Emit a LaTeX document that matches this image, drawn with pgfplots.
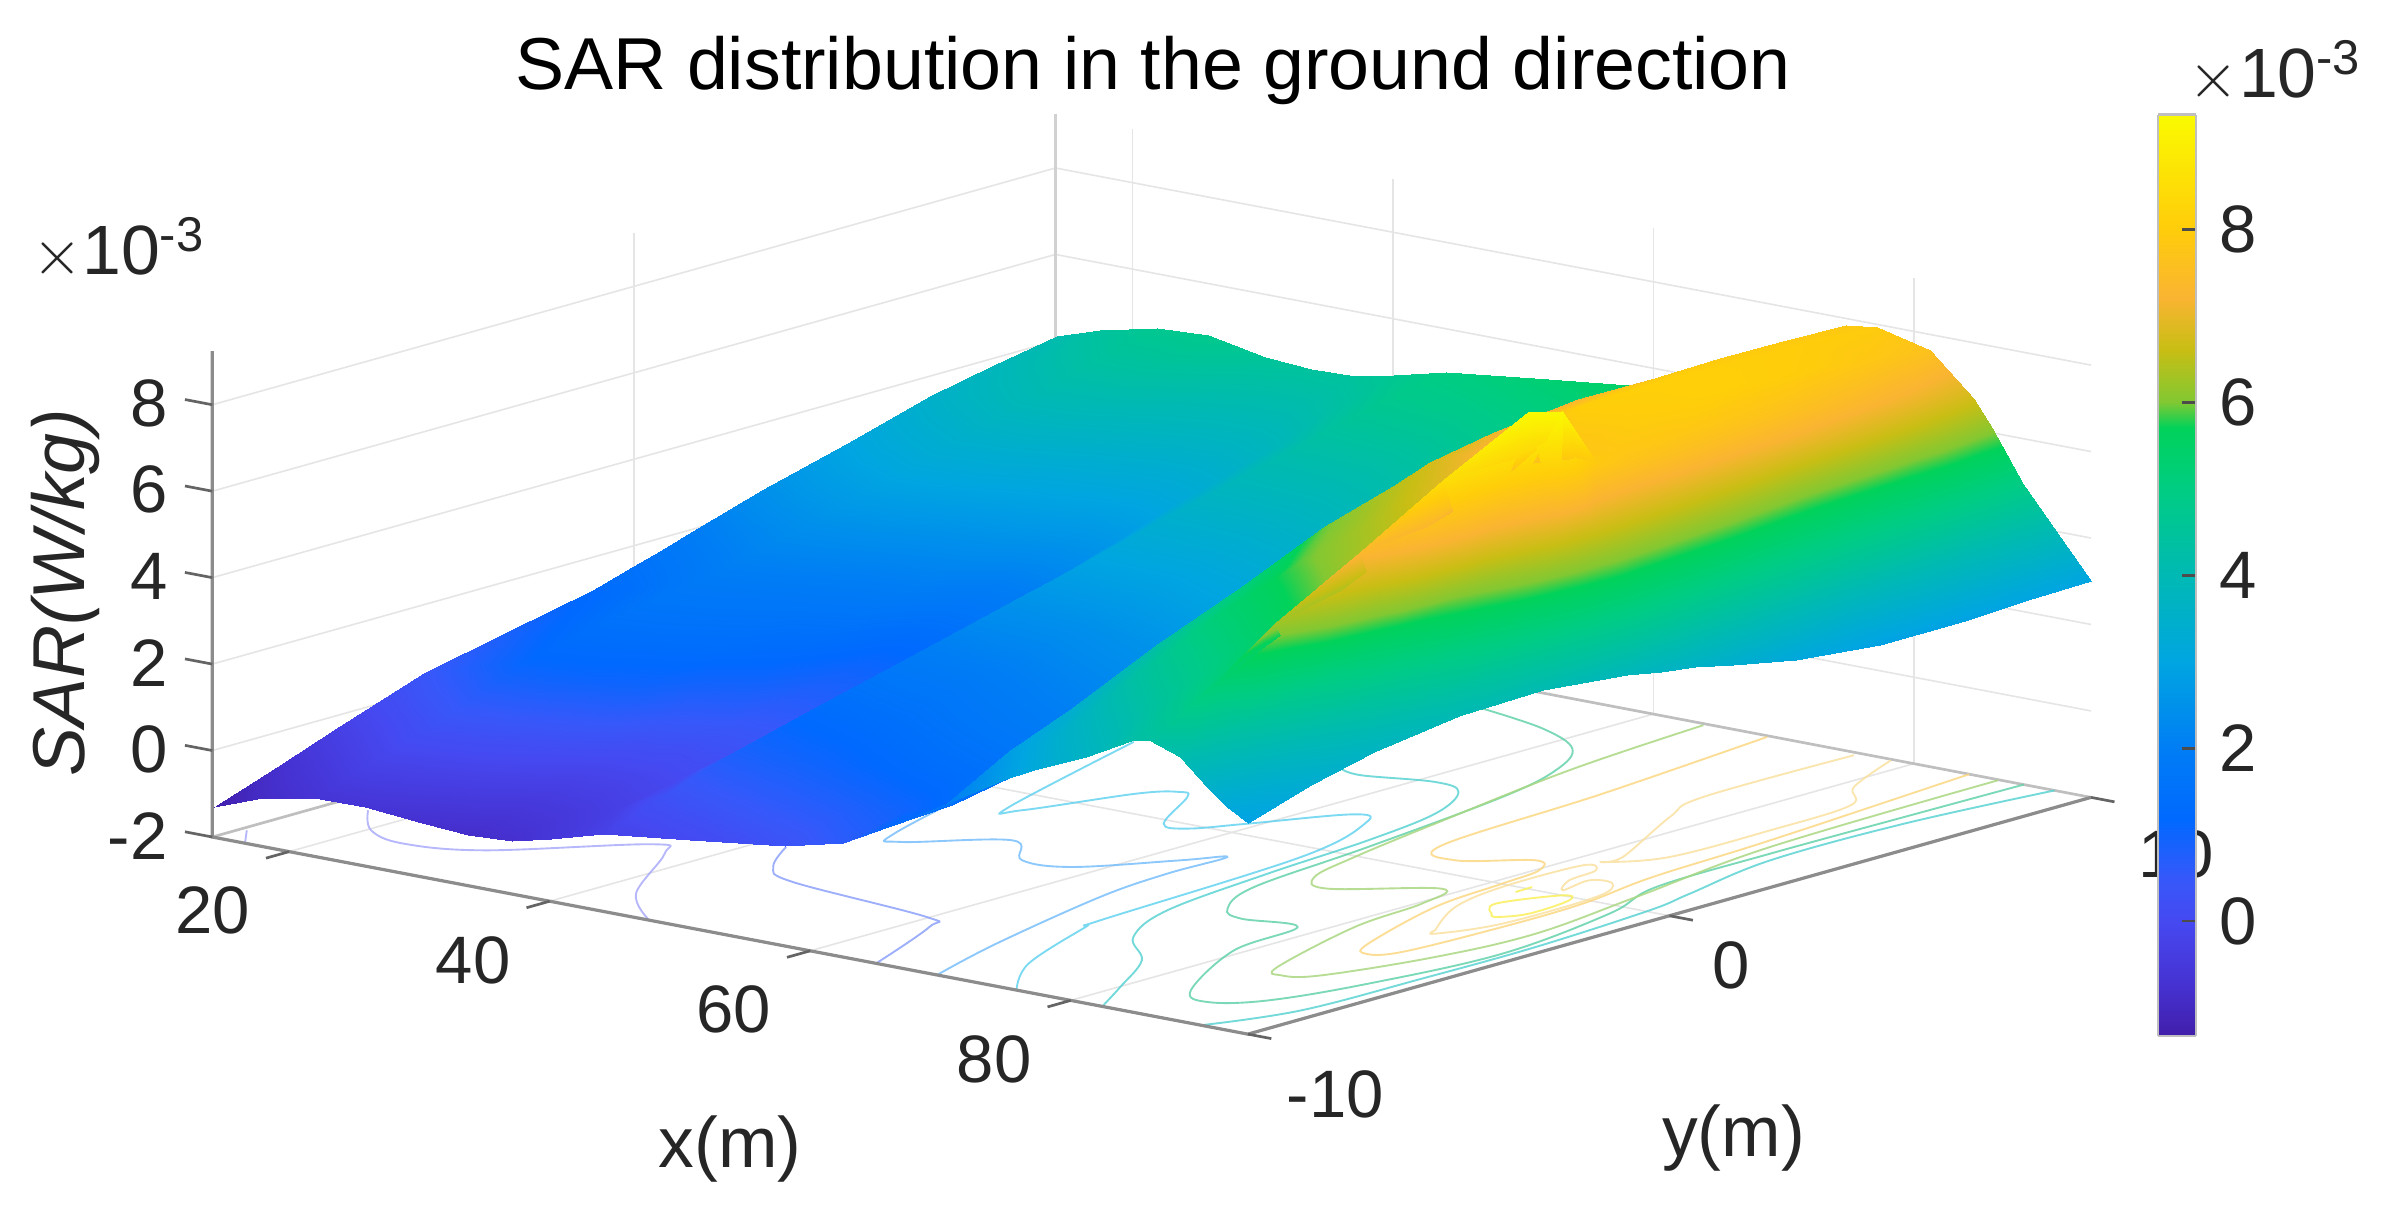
\documentclass[border=0pt]{standalone}
\usepackage{fontspec}
\setmainfont{Liberation Sans}
\usepackage{pgfplots}
\pgfplotsset{compat=1.18}
\usetikzlibrary{calc}
\definecolor{axgray}{RGB}{140,140,140}
\definecolor{tickgray}{RGB}{100,100,100}
\definecolor{txt}{RGB}{38,38,38}
\pgfplotsset{
  colormap={sar}{
    rgb255(0cm)=(65,30,170); rgb255(6cm)=(70,50,210); rgb255(13cm)=(70,72,240);
    rgb255(18cm)=(55,88,250); rgb255(25cm)=(0,105,255); rgb255(33cm)=(0,125,245);
    rgb255(43cm)=(0,165,225); rgb255(53cm)=(0,185,180); rgb255(63cm)=(0,205,130);
    rgb255(70cm)=(0,210,90); rgb255(73cm)=(130,200,50); rgb255(79cm)=(200,190,20);
    rgb255(85cm)=(250,180,50); rgb255(93cm)=(255,205,10); rgb255(106cm)=(250,250,0)
  },
  contourline/.style={line width=0.35pt,smooth,tension=0.6,no markers,opacity=0.85},
}
\begin{document}
\begin{tikzpicture}
\begin{axis}[
  x={(0.08528cm,-0.01623cm)}, y={(0.276cm,0.0775cm)}, z={(0cm,0.283cm)},
  xmin=14.1, xmax=93.6, ymin=-10, ymax=10, zmin=-2, zmax=9.24,
  xtick={20,40,60,80}, ytick={-10,0,10}, ztick={-2,0,2,4,6,8},
  yticklabels={{\hspace*{0.22cm}-10},0,{\hspace*{0.22cm}10}},
  grid=major, major grid style={black!10,line width=0.3pt},
  axis line style={draw=none}, tick style={draw=none},
  tick label style={font=\fontsize{12.5}{14}\selectfont,text=txt},
  xticklabel style={xshift=-0.27cm,yshift=-0.08cm},
  yticklabel style={xshift=0.17cm,yshift=-0.04cm},
  zticklabel style={xshift=-0.17cm,yshift=0.02cm},
  /pgf/number format/assume math mode=true,
  colormap name=sar, point meta min=-1.32, point meta max=9.33,
  clip=false,
]
% back edges of the box
\addplot3[black!18,line width=0.4pt,no markers] coordinates {(14.1,10,-2)(14.1,10,9.24)};
\addplot3[black!25,line width=0.5pt,no markers] coordinates {(14.1,-10,-2)(14.1,10,-2)(93.6,10,-2)};
% floor contours, level by level
\addplot3[contourline,color={rgb,255:red,170;green,170;blue,250}] coordinates {(14.58,-9.33,-2)(16.61,-10,-2)};
\addplot3[contourline,color={rgb,255:red,170;green,170;blue,250}] coordinates {(16.87,-7.16,-2)(20.27,-8.14,-2)(23.91,-8.5,-2)(28.78,-8.05,-2)(35.4,-6.15,-2)(37.5,-6.5,-2)(42.71,-8.79,-2)(47.64,-10,-2)};
\addplot3[contourline,color={rgb,255:red,140;green,160;blue,250}] coordinates {(41.97,-5,-2)(44.64,-6.13,-2)(47.96,-6.7,-2)(59.79,-7.18,-2)(61.57,-7.66,-2)(65.06,-10,-2)};
\addplot3[contourline,color={rgb,255:red,120;green,190;blue,250}] coordinates {(40.73,0.37,-2)(44.75,-3.3,-2)(46.41,-3.65,-2)(51.24,-2.5,-2)(54.94,-3.41,-2)(58.36,-3.26,-2)(62.18,-1.9,-2)(63.8,-1.28,-2)(63.76,-2.7,-2)(64.49,-4.51,-2)(67.35,-7.86,-2)(69.74,-10,-2)};
\addplot3[contourline,color={rgb,255:red,100;green,210;blue,240}] coordinates {(40.76,3.62,-2)(45.66,-0.85,-2)(46.79,-0.89,-2)(49.33,1.05,-2)(51.03,1.54,-2)(52.19,1.36,-2)(55.45,-0.21,-2)(57.35,-0.23,-2)(59.29,0.59,-2)(62.67,2.09,-2)(64.65,1.72,-2)(67.17,-0.57,-2)(68.3,-5.68,-2)(68.72,-6.16,-2)(72.07,-8.55,-2)(75.84,-10,-2)};
\addplot3[contourline,color={rgb,255:red,90;green,210;blue,210}] coordinates {(54.62,4.26,-2)(56.62,4.12,-2)(61.08,4.49,-2)(63.78,4.21,-2)(66.24,2.9,-2)(67.52,0.91,-2)(68.36,-1.74,-2)(69.74,-4.54,-2)(72.54,-6.21,-2)(76.72,-7.3,-2)(80.08,-8.85,-2)(82.42,-10,-2)};
\addplot3[contourline,color={rgb,255:red,90;green,210;blue,210}] coordinates {(90.01,-10,-2)(92.17,-8.29,-2)(92.52,-5.54,-2)(92.57,-2.86,-2)(91.81,0.08,-2)(90.93,1.31,-2)(89.18,3.76,-2)(89.33,6.88,-2)(90.8,10,-2)};
\addplot3[contourline,color={rgb,255:red,100;green,210;blue,170}] coordinates {(51.28,8.64,-2)(57.3,8.21,-2)(61.94,7.48,-2)(64.7,6.23,-2)(66.6,4.38,-2)(68.6,0.58,-2)(69.91,-2.53,-2)(72.23,-3.88,-2)(74.47,-4.25,-2)(78.42,-4.13,-2)(79.32,-5.92,-2)(83.85,-8.34,-2)(86.52,-8.77,-2)(89.01,-8.12,-2)(90.88,-6.31,-2)(92.13,-3.52,-2)(90.51,-0.47,-2)(88.31,1.32,-2)(88.09,4.09,-2)(88.25,7.22,-2)(88.44,10,-2)};
\addplot3[contourline,color={rgb,255:red,170;green,215;blue,130}] coordinates {(64.1,9.92,-2)(65.31,6.36,-2)(67.87,2.39,-2)(69.62,-0.06,-2)(71.04,-1.45,-2)(73.56,-1.91,-2)(78.78,-0.82,-2)(80.3,-1.77,-2)(81.03,-3.58,-2)(84.02,-6.34,-2)(85.54,-6.72,-2)(87.38,-6.34,-2)(89.6,-4.32,-2)(90.4,-2.19,-2)(89.02,0.63,-2)(87,4.43,-2)(86.56,9.97,-2)};
\addplot3[contourline,color={rgb,255:red,250;green,215;blue,130}] coordinates {(68.93,9.94,-2)(70.65,5.51,-2)(71.71,1.37,-2)(74.77,0.74,-2)(78.45,1.51,-2)(80.23,1.04,-2)(80.72,0.01,-2)(81.45,-1.8,-2)(84.36,-4.29,-2)(85.84,-4.82,-2)(87.26,-4.39,-2)(87.78,-2.17,-2)(87.66,-0.22,-2)(86.52,1.79,-2)(85.92,4.76,-2)(84.25,10,-2)};
\addplot3[contourline,color={rgb,255:red,250;green,225;blue,160}] coordinates {(75.89,9.85,-2)(75.79,6.31,-2)(77.52,4.98,-2)(81.88,2.52,-2)(81.79,2.07,-2)(84.03,2.96,-2)(84.29,5.27,-2)(83.89,7.3,-2)(81.06,8.25,-2)(78.4,9.95,-2)};
\addplot3[contourline,color={rgb,255:red,250;green,225;blue,160}] coordinates {(85.26,-2.98,-2)(82.37,-1.61,-2)(81.26,-0.16,-2)(81.41,1.7,-2)(82.84,1.58,-2)(83.24,0.82,-2)(84.57,0.26,-2)(84.16,1.02,-2)(85.77,1.07,-2)(87.18,0.24,-2)(87.24,-2,-2)(85.8,-3.15,-2)(85.26,-2.98,-2)};
\addplot3[contourline,color={rgb,255:red,250;green,240;blue,90}] coordinates {(85.15,-1.6,-2)(83.67,-1.06,-2)(85.38,0,-2)(86.5,-0.19,-2)(86.83,-1.24,-2)(85.84,-1.73,-2)(85.15,-1.6,-2)};
\addplot3[contourline,color={rgb,255:red,250;green,240;blue,90}] coordinates {(82.69,-0.28,-2)(82.64,0.13,-2)};
% surface
\addplot3[surf,shader=interp,z buffer=sort,mesh/cols=23] coordinates {
(14.2,-10,-1.29)(17.5,-10,-.93)(21.9,-10,-.65)(25.8,-10,-.63)(30.2,-10,-.76)(33.7,-10,-.84)(37.1,-10,-.77)(40.1,-10,-.55)(44.1,-10,-.22)(50.8,-10,.03)(58.1,-10,.31)(62.5,-10,.64)(66,-10,1.21)(70.4,-10,2)(74.8,-10,2.79)(77.2,-10,3.17)(81.2,-10,3.7)(84.6,-10,4.26)(86,-10,4.38)(88.4,-10,4.12)(90.5,-10,3.54)(92,-10,3.17)(93.6,-10,2.89)
(14.2,-8.5,-.78)(17.5,-8.5,-.5)(21.9,-8.5,-.15)(25.8,-8.5,-.2)(30.2,-8.5,-.35)(33.7,-8.5,-.5)(37.1,-8.5,-.45)(40.1,-8.5,-.3)(44.1,-8.5,.3)(50.8,-8.5,.55)(58.1,-8.5,.8)(62.5,-8.5,1)(66,-8.5,1.3)(70.4,-8.5,2.8)(74.8,-8.5,3.55)(77.2,-8.5,3.9)(81.2,-8.5,4.4)(84.6,-8.5,4.9)(86,-8.5,5.2)(88.4,-8.5,4.4)(90.5,-8.5,3.85)(92,-8.5,3.55)(93.6,-8.5,3.35)
(14.2,-7,-.25)(17.5,-7,0)(21.9,-7,.35)(25.8,-7,.3)(30.2,-7,.1)(33.7,-7,-.1)(37.1,-7,-.1)(40.1,-7,0)(44.1,-7,.82)(50.8,-7,1)(58.1,-7,1.3)(62.5,-7,1.45)(66,-7,1.6)(70.4,-7,3.4)(74.8,-7,4.3)(77.2,-7,4.6)(81.2,-7,5)(84.6,-7,5.5)(86,-7,6.25)(88.4,-7,4.85)(90.5,-7,4.25)(92,-7,4)(93.6,-7,3.7)
(14.2,-5,.44)(17.5,-5,.75)(21.9,-5,1.15)(25.8,-5,1.1)(30.2,-5,.95)(33.7,-5,.55)(37.1,-5,.4)(40.1,-5,.4)(44.1,-5,1.33)(50.8,-5,1.5)(58.1,-5,1.8)(62.5,-5,1.95)(66,-5,2.05)(70.4,-5,4.3)(74.8,-5,5.2)(77.2,-5,5.4)(81.2,-5,5.75)(84.6,-5,6.4)(86,-5,7.35)(88.4,-5,5.5)(90.5,-5,4.75)(92,-5,4.3)(93.6,-5,4)
(14.2,-3,.85)(17.5,-3,1.15)(21.9,-3,1.55)(25.8,-3,1.5)(30.2,-3,1.4)(33.7,-3,1.15)(37.1,-3,.8)(40.1,-3,.8)(44.1,-3,1.84)(50.8,-3,1.95)(58.1,-3,2.2)(62.5,-3,2.35)(66,-3,2.6)(70.4,-3,5.1)(74.8,-3,5.9)(77.2,-3,6.1)(81.2,-3,6.5)(84.6,-3,7.3)(86,-3,8.5)(88.4,-3,6.1)(90.5,-3,5.2)(92,-3,4.55)(93.6,-3,4.04)
(14.2,-1,1.25)(17.5,-1,1.5)(21.9,-1,1.85)(25.8,-1,1.8)(30.2,-1,1.7)(33.7,-1,1.6)(37.1,-1,1.2)(40.1,-1,1.25)(44.1,-1,2.35)(50.8,-1,2.4)(58.1,-1,2.6)(62.5,-1,2.8)(66,-1,3.1)(70.4,-1,5.95)(74.8,-1,6.45)(77.2,-1,6.65)(81.2,-1,7.1)(84.6,-1,8.3)(86,-1,9.5)(88.4,-1,6.7)(90.5,-1,5.6)(92,-1,4.7)(93.6,-1,3.85)
(14.2,-.2,1.5)(17.5,-.2,1.72)(21.9,-.2,2.02)(25.8,-.2,1.97)(30.2,-.2,1.87)(33.7,-.2,1.8)(37.1,-.2,1.47)(40.1,-.2,1.52)(44.1,-.2,2.55)(50.8,-.2,2.6)(58.1,-.2,2.8)(62.5,-.2,3)(66,-.2,3.35)(70.4,-.2,6.2)(74.8,-.2,6.7)(77.2,-.2,6.95)(81.2,-.2,7.4)(84.6,-.2,8.5)(86,-.2,9.3)(88.4,-.2,6.75)(90.5,-.2,5.6)(92,-.2,4.65)(93.6,-.2,3.7)
(14.2,.6,1.73)(17.5,.6,1.95)(21.9,.6,2.2)(25.8,.6,2.15)(30.2,.6,2.05)(33.7,.6,2)(37.1,.6,1.75)(40.1,.6,1.8)(44.1,.6,2.75)(50.8,.6,2.8)(58.1,.6,3)(62.5,.6,3.2)(66,.6,3.6)(70.4,.6,6.45)(74.8,.6,6.95)(77.2,.6,7.25)(81.2,.6,7.6)(84.6,.6,7.9)(86,.6,7.9)(88.4,.6,6.65)(90.5,.6,5.45)(92,.6,4.5)(93.6,.6,3.6)
(14.2,1.5,2)(17.5,1.5,2.2)(21.9,1.5,2.4)(25.8,1.5,2.35)(30.2,1.5,2.25)(33.7,1.5,2.2)(37.1,1.5,2)(40.1,1.5,2.05)(44.1,1.5,2.98)(50.8,1.5,3)(58.1,1.5,3.2)(62.5,1.5,3.5)(66,1.5,3.85)(70.4,1.5,6.75)(74.8,1.5,7.3)(77.2,1.5,7.6)(81.2,1.5,7.8)(84.6,1.5,7.85)(86,1.5,7.7)(88.4,1.5,6.5)(90.5,1.5,5.25)(92,1.5,4.3)(93.6,1.5,3.4)
(14.2,3,2.48)(17.5,3,2.65)(21.9,3,2.8)(25.8,3,2.75)(30.2,3,2.65)(33.7,3,2.6)(37.1,3,2.5)(40.1,3,2.55)(44.1,3,3.37)(50.8,3,3.4)(58.1,3,3.6)(62.5,3,3.95)(66,3,4.3)(70.4,3,7.05)(74.8,3,7.7)(77.2,3,8.05)(81.2,3,8)(84.6,3,7.85)(86,3,7.5)(88.4,3,6.2)(90.5,3,4.9)(92,3,4)(93.6,3,3.1)
(14.2,5,3)(17.5,5,3.2)(21.9,5,3.4)(25.8,5,3.35)(30.2,5,3.2)(33.7,5,3.15)(37.1,5,3.1)(40.1,5,3.2)(44.1,5,3.88)(50.8,5,3.95)(58.1,5,4.2)(62.5,5,4.55)(66,5,5)(70.4,5,7.25)(74.8,5,7.85)(77.2,5,8.1)(81.2,5,8.1)(84.6,5,7.7)(86,5,7.2)(88.4,5,5.6)(90.5,5,4.5)(92,5,3.65)(93.6,5,2.89)
(14.2,7,3.55)(17.5,7,3.75)(21.9,7,4)(25.8,7,3.95)(30.2,7,3.8)(33.7,7,3.7)(37.1,7,3.7)(40.1,7,3.8)(44.1,7,4.38)(50.8,7,4.45)(58.1,7,4.75)(62.5,7,5.1)(66,7,5.6)(70.4,7,7.25)(74.8,7,7.9)(77.2,7,8.05)(81.2,7,8)(84.6,7,7.4)(86,7,6.75)(88.4,7,5.3)(90.5,7,4.3)(92,7,3.6)(93.6,7,2.9)
(14.2,8.5,3.85)(17.5,8.5,4.1)(21.9,8.5,4.4)(25.8,8.5,4.4)(30.2,8.5,4.2)(33.7,8.5,4.1)(37.1,8.5,4.1)(40.1,8.5,4.3)(44.1,8.5,4.75)(50.8,8.5,4.85)(58.1,8.5,5.1)(62.5,8.5,5.5)(66,8.5,6.1)(70.4,8.5,7.2)(74.8,8.5,7.9)(77.2,8.5,8)(81.2,8.5,7.85)(84.6,8.5,7.1)(86,8.5,6.45)(88.4,8.5,5.15)(90.5,8.5,4.2)(92,8.5,3.6)(93.6,8.5,2.97)
(14.2,10,4.13)(17.5,10,4.45)(21.9,10,4.74)(25.8,10,4.81)(30.2,10,4.56)(33.7,10,4.47)(37.1,10,4.5)(40.1,10,4.7)(44.1,10,5)(50.8,10,5.25)(58.1,10,5.5)(62.5,10,5.9)(66,10,6.5)(70.4,10,7.15)(74.8,10,7.85)(77.2,10,7.95)(81.2,10,7.65)(84.6,10,6.7)(86,10,6.1)(88.4,10,4.95)(90.5,10,4.15)(92,10,3.6)(93.6,10,3)
};
% the three axes that MATLAB draws, with their outward ticks
\addplot3[axgray,line width=0.6pt,no markers] coordinates {(14.1,-10,9.24)(14.1,-10,-2)(93.6,-10,-2)(93.6,10,-2)};
\draw[tickgray,line width=0.5pt]
  (axis cs:20,-10,-2)--(axis cs:20,-10.55,-2) (axis cs:40,-10,-2)--(axis cs:40,-10.55,-2)
  (axis cs:60,-10,-2)--(axis cs:60,-10.55,-2) (axis cs:80,-10,-2)--(axis cs:80,-10.55,-2)
  (axis cs:93.6,-10,-2)--(axis cs:95.4,-10,-2) (axis cs:93.6,0,-2)--(axis cs:95.4,0,-2)
  (axis cs:93.6,10,-2)--(axis cs:95.4,10,-2)
  (axis cs:14.1,-10,-2)--(axis cs:12,-10,-2) (axis cs:14.1,-10,0)--(axis cs:12,-10,0)
  (axis cs:14.1,-10,2)--(axis cs:12,-10,2) (axis cs:14.1,-10,4)--(axis cs:12,-10,4)
  (axis cs:14.1,-10,6)--(axis cs:12,-10,6) (axis cs:14.1,-10,8)--(axis cs:12,-10,8);
\coordinate (P) at (axis cs:14.1,-10,-2);
\end{axis}
% colour bar
\begin{axis}[
  at={($(P)+(12.74cm,-1.30cm)$)}, anchor=south west, scale only axis,
  width=0.245cm, height=6.03cm, xmin=0, xmax=1, ymin=-1.32, ymax=9.33,
  view={0}{90}, xtick=\empty, ytick={0,2,4,6,8}, ytick pos=right,
  yticklabel pos=right, tick align=inside, major tick length=0.09cm,
  tick style={black!70,line width=0.4pt}, axis line style={black!25,line width=0.4pt},
  tick label style={font=\fontsize{12.5}{14}\selectfont,text=txt},
  yticklabel style={xshift=0.03cm},
  /pgf/number format/assume math mode=true,
  colormap name=sar, point meta min=-1.32, point meta max=9.33,
]
\addplot3[surf,shader=interp,point meta=y,mesh/cols=2] coordinates {
(0,-1.32,0)(1,-1.32,0)
(0,9.33,0)(1,9.33,0)
};
\end{axis}
\pgfresetboundingbox
\path ($(P)+(-1.39cm,-2.44cm)$) rectangle ($(P)+(14.29cm,5.48cm)$);
\node[text=black,font=\fontsize{13.7}{16}\selectfont] at ($(P)+(6.16cm,5.02cm)$) {SAR distribution in the ground direction};
\node[text=txt,font=\fontsize{13.3}{15}\selectfont] at ($(P)+(3.39cm,-2.04cm)$) {x(m)};
\node[text=txt,font=\fontsize{13.3}{15}\selectfont] at ($(P)+(9.96cm,-1.97cm)$) {y(m)};
\node[text=txt,rotate=90,font=\fontsize{13.7}{15}\itshape] at ($(P)+(-0.96cm,1.6cm)$) {SAR(W/kg)};
\node[text=txt,font=\fontsize{13}{15}\selectfont] at ($(P)+(-0.61cm,3.85cm)$) {$\times$10\textsuperscript{-3}};
\node[text=txt,font=\fontsize{13}{15}\selectfont] at ($(P)+(13.51cm,5.01cm)$) {$\times$10\textsuperscript{-3}};
\end{tikzpicture}
\end{document}
